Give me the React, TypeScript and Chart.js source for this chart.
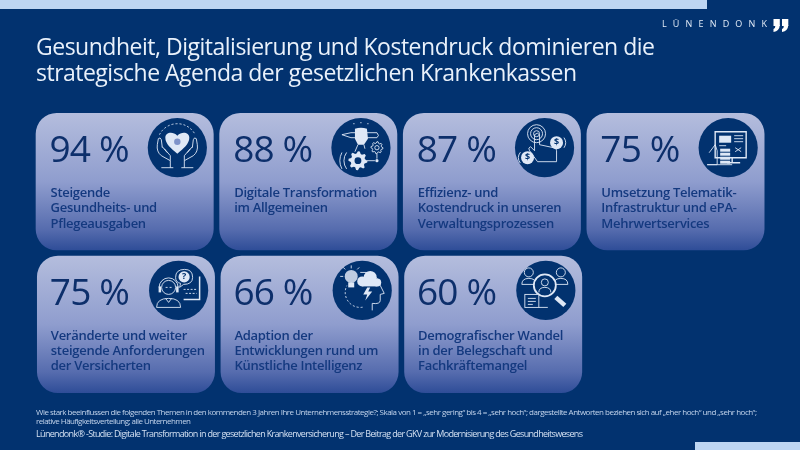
import { useEffect, useRef } from "react"
import { Chart, registerables } from "chart.js"

Chart.register(...registerables)

// Share of companies rating the topic "eher hoch" or "sehr hoch", in percent
const shares = [94, 88, 87, 75, 75, 66, 60]
const topics = [
  ["Steigende", "Gesundheits- und", "Pflegeausgaben"],
  ["Digitale Transformation", "im Allgemeinen"],
  ["Effizienz- und", "Kostendruck in unseren", "Verwaltungsprozessen"],
  ["Umsetzung Telematik-", "Infrastruktur und ePA-", "Mehrwertservices"],
  ["Veränderte und weiter", "steigende Anforderungen", "der Versicherten"],
  ["Adaption der", "Entwicklungen rund um", "Künstliche Intelligenz"],
  ["Demografischer Wandel", "in der Belegschaft und", "Fachkräftemangel"],
]
const columnsPerRow = [4, 3]
const titleLines = [
  "Gesundheit, Digitalisierung und Kostendruck dominieren die",
  "strategische Agenda der gesetzlichen Krankenkassen",
]
const noteLines = [
  "Wie stark beeinflussen die folgenden Themen in den kommenden 3 Jahren Ihre Unternehmensstrategie?; Skala von 1 = „sehr gering“ bis 4 = „sehr hoch“; dargestellte Antworten beziehen sich auf „eher hoch“ und „sehr hoch“;",
  "relative Häufigkeitsverteilung; alle Unternehmen",
]
const sourceLine =
  "Lünendonk® -Studie: Digitale Transformation in der gesetzlichen Krankenversicherung – Der Beitrag der GKV zur Modernisierung des Gesundheitswesens"
const brand = "LÜNENDONK"

const NAVY = "#02326f"
const PALE = "#bdd5f2"
const INK = "#0d2f6b"
const LABEL = "#14397f"
const ICON = "#dfe8f6"
const FONT = '"Open Sans", sans-serif'
const CARD_SPAN = 0.958

type Ctx = CanvasRenderingContext2D

function fillFit(c: Ctx, text: string, x: number, y: number, width: number) {
  c.letterSpacing = "0px"
  const w = c.measureText(text).width
  c.letterSpacing = (width - w) / (text.length - 1) + "px"
  c.fillText(text, x, y)
  c.letterSpacing = "0px"
}

function gear(c: Ctx, x: number, y: number, r: number, filled: boolean) {
  c.beginPath()
  for (let i = 0; i < 32; i++) {
    const a = (i / 32) * Math.PI * 2
    const rr = i % 4 < 2 ? r : r * 0.76
    c.lineTo(x + Math.cos(a) * rr, y + Math.sin(a) * rr)
  }
  c.closePath()
  if (filled) {
    c.fill()
    c.fillStyle = NAVY
    c.beginPath()
    c.arc(x, y, r * 0.36, 0, Math.PI * 2)
    c.fill()
    c.fillStyle = ICON
  } else {
    c.stroke()
    c.beginPath()
    c.arc(x, y, r * 0.36, 0, Math.PI * 2)
    c.stroke()
  }
}

function dot(c: Ctx, x: number, y: number, r: number) {
  c.beginPath()
  c.arc(x, y, r, 0, Math.PI * 2)
  c.fill()
}

function ring(c: Ctx, x: number, y: number, r: number, a = 0, b = Math.PI * 2) {
  c.beginPath()
  c.arc(x, y, r, a, b)
  c.stroke()
}

function glyph(c: Ctx, text: string, x: number, y: number, size: number) {
  c.fillStyle = NAVY
  c.font = `700 ${size}px ${FONT}`
  c.textAlign = "center"
  c.textBaseline = "middle"
  c.fillText(text, x, y)
  c.textAlign = "left"
  c.textBaseline = "alphabetic"
  c.fillStyle = ICON
}

const icons: ((c: Ctx) => void)[] = [
  // caring hands around a heart
  (c) => {
    c.setLineDash([2, 2])
    ring(c, 0, -4, 20, -Math.PI * 0.85, -Math.PI * 0.15)
    c.setLineDash([])
    c.fill(new Path2D("M0 6C-6 1-12-4-12-10C-12-15-5-17 0-12C5-17 12-15 12-10C12-4 6 1 0 6Z"))
    c.fillStyle = "#7f93c9"
    dot(c, 0, -6, 3.2)
    c.fillStyle = ICON
    for (const s of [-1, 1]) {
      c.save()
      c.scale(s, 1)
      c.stroke(new Path2D("M7 20V13L16 8Q21 4 20-3L19-9Q17-11 16-8L15 0M7 13V8L13 1M15-1L10 5M4 20H16"))
      c.restore()
    }
  },
  // hand with pen and gears
  (c) => {
    c.stroke(new Path2D("M-19-13L-10-15H16Q19-12 16-10H-10ZM-3-3L-6 4M3-3L4 1"))
    c.fill(new Path2D("M-6-19Q0-21 6-19L7-9L3-3H-3L-6-9Z"))
    dot(c, -7, -24, 0.6)
    dot(c, 0, -25, 0.6)
    dot(c, 7, -24, 0.6)
    gear(c, -3, 13, 9.5, true)
    gear(c, 16, 0, 6, false)
    ring(c, -3, 13, 14, Math.PI * 0.8, Math.PI * 1.2)
    ring(c, -3, 13, 18, Math.PI * 0.85, Math.PI * 1.15)
    c.stroke(new Path2D("M6 13H14M16 6V11"))
    dot(c, 16, 13, 1.6)
  },
  // tapping finger with coins
  (c) => {
    ring(c, -8, -14, 3)
    ring(c, -8, -14, 6)
    ring(c, -8, -14, 9)
    c.stroke(new Path2D("M-10-13V3L-14-1Q-17 0-15 3L-7 14H12V3Q12 0 9 0L-5-3V-13Q-7-16-10-13Z"))
    c.fillStyle = ICON
    dot(c, 12, -5, 6.5)
    dot(c, -17, 10, 6.5)
    glyph(c, "$", 12, -5, 9)
    glyph(c, "$", -17, 10, 9)
    ring(c, 12, -5, 9, -0.6, 0.6)
    ring(c, -17, 10, 9, 2.5, 3.8)
  },
  // monitor with dashboard and data stack
  (c) => {
    c.lineWidth = 1.4
    c.stroke(new Path2D("M-13-16H18V10H-13ZM4 10V15M-1 15H12"))
    c.lineWidth = 0.9
    c.fillRect(-9, -12, 12, 7)
    c.stroke(new Path2D("M6-12H15M6-9H15M6-6H15M-9-2H-2M7 0L13 4M13 0L7 4"))
    for (const y of [1, 5, 9, 13]) c.fillRect(-8, y, 10, 3)
    c.stroke(new Path2D("M-19 5L-13-3L-11 3V17H-21M-21 17H4"))
  },
  // agent with headset and question
  (c) => {
    ring(c, -10, -3, 7)
    ring(c, -10, -3, 9.5, Math.PI, 0)
    c.fillRect(-20, -4, 2.5, 6)
    c.fillRect(-2.5, -4, 2.5, 6)
    c.stroke(new Path2D("M-22 17Q-22 8-10 8Q2 8 2 17ZM-13-3H-11M-9-3H-7M-13 8L-10 12L-7 8"))
    c.stroke(new Path2D("M-3-13Q-3-21 6-21Q14-21 14-13Q14-6 5-6L1-3L2-7Q-3-8-3-13Z"))
    c.fillStyle = ICON
    dot(c, 5.5, -13.5, 5.6)
    glyph(c, "?", 5.5, -13.5, 9)
    c.lineWidth = 1.5
    c.stroke(new Path2D("M21-14V9H5"))
    c.lineWidth = 0.9
    c.setLineDash([2, 1.5])
    c.stroke(new Path2D("M5-1H18M7 3H18"))
    c.setLineDash([])
  },
  // head, cloud and light bulb
  (c) => {
    c.stroke(new Path2D("M-2-18Q14-20 18-5L22 3L18 4V10Q18 14 10 13V20"))
    dot(c, 0, -9, 5)
    dot(c, 8, -13, 6.5)
    dot(c, 15, -8, 4)
    c.fillRect(0, -9, 15, 5)
    c.fill(new Path2D("M5-3L1 4H5L3 10L10 1H6L8-3Z"))
    c.globalAlpha = 0.85
    dot(c, -11, -14, 6.5)
    c.globalAlpha = 1
    c.fillRect(-14, -8, 6, 5)
    c.setLineDash([2, 2])
    ring(c, -2, 2, 15, Math.PI * 0.45, Math.PI * 1.15)
    c.setLineDash([])
    c.stroke(new Path2D("M-19-14H-22M-17-21L-19-23M-11-22V-25M-5-21L-3-23"))
  },
  // magnifier over people and a file
  (c) => {
    for (const x of [-17, 15]) {
      ring(c, x, -18, 4.5)
      c.stroke(new Path2D(`M${x - 7} -6Q${x - 7} -12 ${x} -12Q${x + 7} -12 ${x + 7} -6Z`))
    }
    c.fillStyle = NAVY
    dot(c, -1, -5, 11)
    c.fillStyle = ICON
    c.lineWidth = 1.8
    ring(c, -1, -5, 11)
    c.lineWidth = 0.9
    ring(c, -1, -8, 3.5)
    c.stroke(new Path2D("M-7 2Q-7-3-1-3Q5-3 5 2"))
    c.lineWidth = 4.5
    c.stroke(new Path2D("M10 7L19 15"))
    c.lineWidth = 0.9
    c.fillStyle = NAVY
    c.fillRect(-21, 4, 14, 13)
    c.strokeRect(-21, 4, 14, 13)
    c.fillStyle = ICON
    c.stroke(new Path2D("M-18 8H-10M-18 11H-10M-18 14H-13M-7 17H2"))
  },
]

const infographicPlugin = {
  id: "infographic",
  beforeDraw(chart: Chart) {
    const c = chart.ctx
    c.save()
    c.fillStyle = NAVY
    c.fillRect(0, 0, chart.width, chart.height)
    c.fillStyle = PALE
    c.fillRect(0, 0, 707, 9)
    c.fillRect(695, 442, 105, 8)
    c.restore()
  },
  afterDatasetsDraw(chart: Chart) {
    const c = chart.ctx
    c.save()

    // header
    c.fillStyle = "#e9f1fb"
    c.font = `400 23px ${FONT}`
    fillFit(c, titleLines[0], 36, 55, 619)
    fillFit(c, titleLines[1], 36, 81, 541)

    c.fillStyle = "#e3ecf8"
    c.font = `400 9px ${FONT}`
    fillFit(c, brand, 662, 27, 105)
    c.fillStyle = "#ffffff"
    for (const x of [773.5, 782]) {
      c.fillRect(x, 19, 6.3, 7)
      c.beginPath()
      c.moveTo(x + 6.3, 25)
      c.quadraticCurveTo(x + 6, 31, x, 32)
      c.lineTo(x, 29)
      c.quadraticCurveTo(x + 2, 28, x + 2, 25)
      c.fill()
    }

    // cards
    let card = 0
    columnsPerRow.forEach((_, row) => {
      const inset = row === 0 ? 14.5 : 13.5
      chart.getDatasetMeta(row).data.forEach((bar: any) => {
        const left = bar.x - bar.width / 2
        const top = Math.min(bar.y, bar.base)

        c.fillStyle = INK
        c.font = `400 37px ${FONT}`
        fillFit(c, `${shares[card]} %`, left + inset - 1, top + 48.5, 80)

        c.fillStyle = LABEL
        c.font = `600 13px ${FONT}`
        c.letterSpacing = "-0.28px"
        topics[card].forEach((line, i) => {
          c.fillText(line, left + inset, top + 83.5 + i * 15.4)
        })
        c.letterSpacing = "0px"

        c.save()
        c.translate(left + 141.3, top + 34.4)
        c.fillStyle = NAVY
        dot(c, 0, 0, 29.6)
        c.fillStyle = ICON
        c.strokeStyle = ICON
        c.lineWidth = 0.9
        icons[card](c)
        c.restore()
        card++
      })
    })

    // footnotes
    c.fillStyle = "#c3d4ec"
    c.font = `400 8px ${FONT}`
    fillFit(c, noteLines[0], 36, 414.5, 721)
    fillFit(c, noteLines[1], 36, 424, 155)
    c.fillStyle = "#d3e0f2"
    c.font = `400 9px ${FONT}`
    fillFit(c, sourceLine, 36, 437, 547)
    c.restore()
  },
}

function cardFill(ctx: any) {
  const { chart, datasetIndex } = ctx
  if (!chart.chartArea) return "#8f9dcd"
  const y = chart.scales.y
  const top = y.getPixelForValue(datasetIndex)
  const bottom = y.getPixelForValue(datasetIndex + CARD_SPAN)
  const g = chart.ctx.createLinearGradient(0, top, 0, bottom)
  g.addColorStop(0, "#b4bddd")
  g.addColorStop(0.5, "#8f9dce")
  g.addColorStop(0.85, "#566cae")
  g.addColorStop(1, "#2f4d98")
  return g
}

export default function App() {
  const chartRef = useRef<HTMLCanvasElement>(null)

  useEffect(() => {
    if (!chartRef.current) return
    let start = 0
    const datasets = columnsPerRow.map((count, row) => {
      const rowShares = shares.slice(start, start + count)
      start += count
      return {
        label: `Reihe ${row + 1}`,
        xAxisID: row === 0 ? "x" : "x2",
        yAxisID: "y",
        // every card has the same size, the share is printed on it
        data: rowShares.map((_, col) => ({ x: col, y: [row, row + CARD_SPAN] })),
        backgroundColor: cardFill,
        borderWidth: 0,
        borderRadius: 21,
        borderSkipped: false,
        barThickness: 177.3,
        grouped: false,
      }
    })

    const chart = new Chart(chartRef.current, {
      type: "bar",
      data: { datasets } as any,
      plugins: [infographicPlugin],
      options: {
        animation: false,
        responsive: false,
        layout: { padding: 0 },
        plugins: { legend: { display: false }, tooltip: { enabled: false } },
        scales: {
          x: { type: "linear", display: false, offset: false, min: -0.679, max: 3.678 },
          x2: { type: "linear", axis: "x", display: false, offset: false, min: -0.686, max: 3.671 },
          y: { type: "linear", display: false, reverse: true, min: -0.794, max: 2.3595 },
        } as any,
      },
    })

    return () => chart.destroy()
  }, [])

  return (
    <div style={{ position: "absolute", left: 0, top: 0, width: 800, height: 450 }}>
      <canvas ref={chartRef} width={800} height={450} style={{ display: "block" }}></canvas>
    </div>
  )
}
